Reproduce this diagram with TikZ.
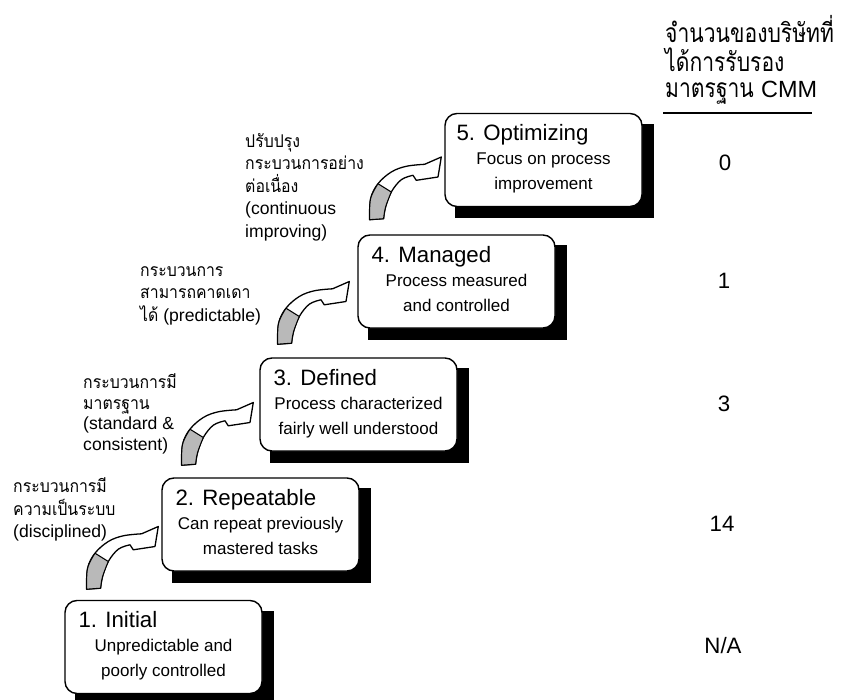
\documentclass[tikz,border=0pt]{standalone}
\usepackage{fontspec}
\setmainfont{Liberation Sans}
\newfontfamily\thai[Script=Thai, FakeStretch=0.9]{Loma}
\newfontfamily\thaicond[Script=Thai, FakeStretch=0.8]{Loma}
\usetikzlibrary{calc,backgrounds}

\tikzset{
  % twisted broad arrow, tip at the pic origin (units: px, y down)
  twistarrow/.pic={
    \filldraw[fill=white, line width=1.1pt, line join=round]
      (0,0) -- (-3.3,20) -- (-25,23.3) -- (-28.3,18.3)
      -- plot[smooth, tension=0.6] coordinates {(-28.3,18.3) (-40,22.7) (-50,35) (-55.7,50) (-57.7,61.7)}
      -- (-71.7,62.7)
      -- plot[smooth, tension=0.6] coordinates {(-71.7,62.7) (-70.7,41.7) (-63.3,26.7) (-50,15) (-35,9.3) (-16.7,7.3)}
      -- cycle;
    \filldraw[fill=gray!55, line width=0.9pt, line join=round]
      (-63.3,26.7) -- (-50,35)
      -- plot[smooth, tension=0.6] coordinates {(-50,35) (-55.7,50) (-57.7,61.7)}
      -- (-71.7,62.7)
      -- plot[smooth, tension=0.6] coordinates {(-71.7,62.7) (-70.7,41.7) (-63.3,26.7)}
      -- cycle;
  },
  stage/.style={draw, line width=1.2pt, rounded corners=0.36cm, fill=white,
    minimum width=5.91cm, minimum height=2.79cm, inner sep=0pt},
  stagetitle/.style={anchor=base west, inner sep=0pt, font=\fontsize{19}{22}\selectfont},
  stagetext/.style={anchor=base, inner sep=0pt, font=\fontsize{14.5}{17}\selectfont},
  lbl/.style={anchor=base west, inner sep=0pt, font=\fontsize{15}{18}\selectfont},
  count/.style={anchor=base, inner sep=0pt, font=\fontsize{19}{22}\selectfont},
  hdr/.style={anchor=base west, inner sep=0pt, font=\fontsize{22.5}{26}\selectfont},
}

\begin{document}
\begin{tikzpicture}[x=0.03cm, y=-0.03cm]
\useasboundingbox (0,0) rectangle (841,699);

% the five maturity levels
\node[stage] (b1) at (163.5,647) {};
\node[stage] (b2) at (260.5,524.5) {};
\node[stage] (b3) at (358.5,404.5) {};
\node[stage] (b4) at (456.5,281.5) {};
\node[stage] (b5) at (543.5,160) {};

% solid drop shadows behind the boxes
\begin{scope}[on background layer]
  \foreach \b in {b1,b2,b3,b4,b5}
    \fill[black] ($(\b.north west)+(11,11)$) rectangle ($(\b.south east)+(11,11)$);
\end{scope}

% box texts
\node[stagetitle] (t1) at ($(b1.north west)+(14,28)$) {1. Initial};
\node[stagetext] (s1a) at ($(b1.north)+(0,52)$) {Unpredictable and};
\node[stagetext] (s1b) at ($(b1.north)+(0,77)$) {poorly controlled};

\node[stagetitle] (t2) at ($(b2.north west)+(14,28)$) {2. Repeatable};
\node[stagetext] (s2a) at ($(b2.north)+(0,52)$) {Can repeat previously};
\node[stagetext] (s2b) at ($(b2.north)+(0,77)$) {mastered tasks};

\node[stagetitle] (t3) at ($(b3.north west)+(14,28)$) {3. Defined};
\node[stagetext] (s3a) at ($(b3.north)+(0,52)$) {Process characterized};
\node[stagetext] (s3b) at ($(b3.north)+(0,77)$) {fairly well understood};

\node[stagetitle] (t4) at ($(b4.north west)+(14,28)$) {4. Managed};
\node[stagetext] (s4a) at ($(b4.north)+(0,52)$) {Process measured};
\node[stagetext] (s4b) at ($(b4.north)+(0,77)$) {and controlled};

\node[stagetitle] (t5) at ($(b5.north west)+(12,28)$) {5. Optimizing};
\node[stagetext] (s5a) at ($(b5.north)+(0,52)$) {Focus on process};
\node[stagetext] (s5b) at ($(b5.north)+(0,77)$) {improvement};

% twisted arrows leading into each next level
\pic at ($(b2.west)+(-3,2)$) {twistarrow};
\pic at ($(b3.west)+(-6,-2)$) {twistarrow};
\pic at ($(b4.west)+(-8,0)$) {twistarrow};
\pic at ($(b5.west)+(-3,-3)$) {twistarrow};

% side notes
\foreach \txt [count=\i] in {{\thai กระบวนการมี}, {\thai ความเป็นระบบ}, {(disciplined)}}
  \node[lbl] (n2-\i) at (13, 470+22.5*\i) {\txt};
\foreach \txt [count=\i] in {{\thai กระบวนการมี}, {\thai มาตรฐาน}, {(standard \&}, {consistent)}}
  \node[lbl] (n3-\i) at (83, 368+20.5*\i) {\txt};
\foreach \txt [count=\i] in {{\thai กระบวนการ}, {\thai สามารถคาดเดา}, {{\thai ได้} (predictable)}}
  \node[lbl] (n4-\i) at (140, 253.5+22.5*\i) {\txt};
\foreach \txt [count=\i] in {{\thai ปรับปรุง}, {\thai กระบวนการอย่าง}, {\thai ต่อเนื่อง}, {(continuous}, {improving)}}
  \node[lbl] (n5-\i) at (245, 124.5+22.5*\i) {\txt};

% column of certified company counts
\node[hdr] (h1) at (665,42) {\thaicond จำนวนของบริษัทที่};
\node[hdr] (h2) at (665,71) {\thaicond ได้การรับรอง};
\node[hdr] (h3) at (665,97) {{\thaicond มาตรฐาน} {\fontsize{20}{24}\selectfont CMM}};
\draw[line width=1pt] ($(h3.base west)+(-2,16)$) -- ($(h3.base east)+(-5,16)$);

\node[count] (c5) at (725,170) {0};
\node[count] (c4) at (724,288) {1};
\node[count] (c3) at (724,411) {3};
\node[count] (c2) at (722,531) {14};
\node[count] (c1) at (723,653) {N/A};
\end{tikzpicture}
\end{document}
